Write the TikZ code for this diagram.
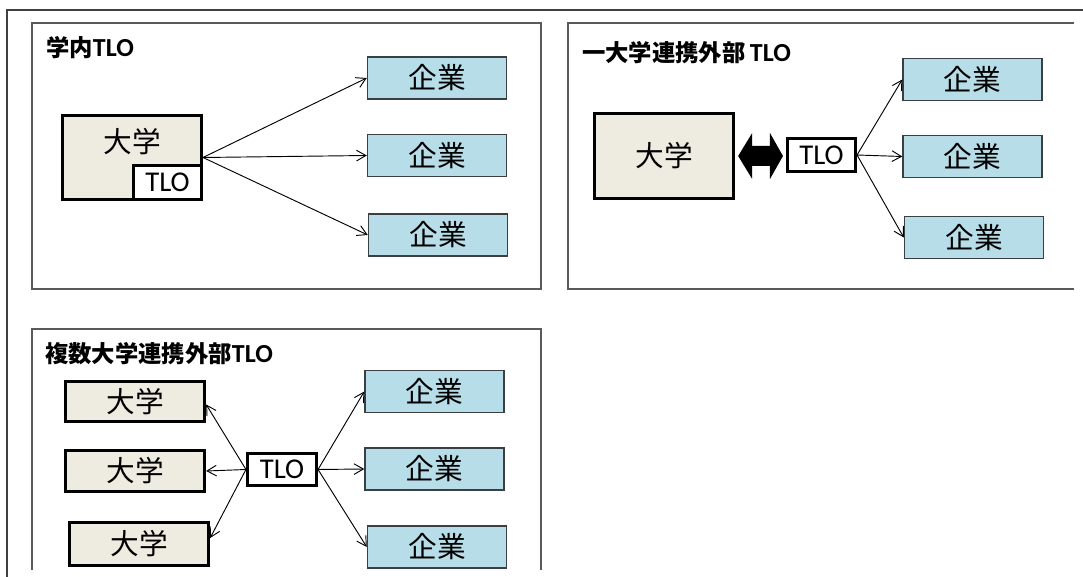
\documentclass[tikz,border=0pt]{standalone}
\usepackage{fontspec}
\usetikzlibrary{arrows.meta,calc}
\newfontfamily\cjkfont{Noto Sans CJK JP}
\newfontfamily\latinfont{Carlito}
\newcommand\boxfont{\cjkfont\fontsize{21.5pt}{24pt}\selectfont}
\newcommand\tlofont{\latinfont\fontsize{21.5pt}{24pt}\selectfont}
\newcommand\titlefont{\fontsize{17.5pt}{20pt}\selectfont}
\newcommand\ttl[2]{{\cjkfont\bfseries #1}{\latinfont\bfseries\fontsize{19.5pt}{20pt}\selectfont #2}}
\definecolor{univfill}{HTML}{EEECE1}
\definecolor{compfill}{HTML}{B7DEE8}
\definecolor{compline}{HTML}{3A3F44}
\definecolor{panelgray}{HTML}{5A5A5A}
\definecolor{framegray}{HTML}{404040}
\tikzset{
  px/.style 2 args={minimum width=#1*0.75pt, minimum height=#2*0.75pt},
  univ/.style={draw=black, line width=2.5pt, fill=univfill, inner sep=0pt, font=\boxfont},
  comp/.style={draw=compline, line width=1.1pt, fill=compfill, inner sep=0pt, font=\boxfont, px={139}{42}},
  tlobox/.style={draw=black, line width=2.3pt, fill=white, inner sep=0pt, font=\tlofont},
  panel/.style={draw=panelgray, line width=1.1pt},
  outerframe/.style={draw=framegray, line width=1.5pt},
  conn/.style={draw=black, line width=0.7pt, -{Straight Barb[length=7pt,width=8pt]}},
  title/.style={anchor=west, inner sep=0pt, font=\titlefont},
  plain/.style={inner sep=0pt}
}
\begin{document}
\begin{tikzpicture}[x=0.75pt, y=-0.75pt]
\useasboundingbox (0,0) rectangle (1083,577);
% outer frame
\draw[outerframe] (1083,10) -- (7,10) -- (7,577);
% panels
\draw[panel] (32,23) rectangle (541,289);
\draw[panel] (1074,23) -- (568,23) -- (568,289) -- (1074,289);
\draw[panel] (32,570) -- (32,329) -- (541,329) -- (541,570);

% ---------- panel 1 ----------
\node[title] (ti1) at (46,48) {\ttl{学内}{TLO}};
\node[univ, px={138.6}{83.6}] (u1) at (132,157.5) {};
\node[plain, font=\boxfont] (u1t) at (132,142) {大学};
\node[tlobox, px={68}{34}] (tl1) at (167.5,182.5) {TLO};
\node[comp] (k11) at (437,78) {企業};
\node[comp] (k12) at (437,155.5) {企業};
\node[comp] (k13) at (438,235) {企業};
\draw[conn] (u1.east) -- (k11.west);
\draw[conn] (u1.east) -- (k12.west);
\draw[conn] (u1.east) -- (k13.west);

% ---------- panel 2 ----------
\node[title] (ti2) at (582,53) {\ttl{一大学連携外部}{\,TLO}};
\node[univ, px={139}{85}] (u2) at (664,156) {大学};
\node[tlobox, px={68}{33}] (t2) at (821.5,155) {TLO};
\node[comp] (k21) at (972.5,79.5) {企業};
\node[comp] (k22) at (972.5,156.5) {企業};
\node[comp] (k23) at (974,237.5) {企業};
\coordinate (da1) at ($(u2.east)+(3,0)$);
\coordinate (da2) at ($(u2.east -| t2.west)+(-3,0)$);
\fill[black] (da1) -- ($(da1)+(14,-23)$) -- ($(da1)+(14,-10)$) -- ($(da2)+(-13,-10)$)
  -- ($(da2)+(-13,-23)$) -- (da2) -- ($(da2)+(-13,23)$) -- ($(da2)+(-13,10)$)
  -- ($(da1)+(14,10)$) -- ($(da1)+(14,23)$) -- cycle;
\draw[conn] (t2.east) -- (k21.west);
\draw[conn] (t2.east) -- (k22.west);
\draw[conn] (t2.east) -- (k23.west);

% ---------- panel 3 ----------
\node[title] (ti3) at (45,354) {\ttl{複数大学連携外部}{TLO}};
\node[univ, px={139}{40}] (v1) at (135,401.5) {大学};
\node[univ, px={139}{41}] (v2) at (135,471) {大学};
\node[univ, px={139}{43}] (v3) at (139,544) {大学};
\node[tlobox, px={69}{32}] (t3) at (282,469.5) {TLO};
\node[comp] (k31) at (434.5,391.5) {企業};
\node[comp] (k32) at (434.5,469) {企業};
\node[comp] (k33) at (437,547) {企業};
\draw[conn] (t3.west) -- ($(v1.east)+(0,3)$);
\draw[conn] (t3.west) -- (v2.east);
\draw[conn] (t3.west) -- ($(v3.east)+(0,-6)$);
\draw[conn] (t3.east) -- (k31.west);
\draw[conn] (t3.east) -- (k32.west);
\draw[conn] (t3.east) -- (k33.west);
\end{tikzpicture}
\end{document}
